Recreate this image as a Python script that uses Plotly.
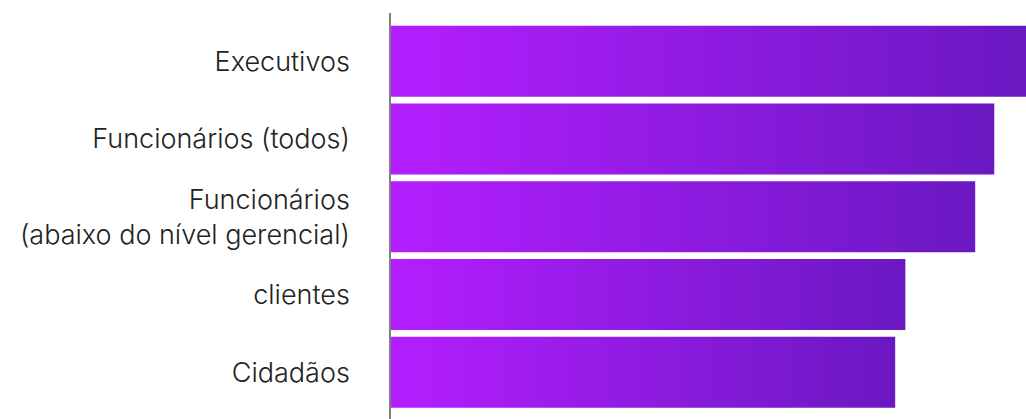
import plotly.graph_objects as go

categories = [
    "Executivos",
    "Funcionários (todos)",
    "Funcionários<br>(abaixo do nível gerencial)",
    "clientes",
    "Cidadãos",
]
values = [100, 95, 92, 81, 79.4]

color_start = "#b41eff"
color_end = "#6a18c2"
half = 0.456

fig = go.Figure()
for i, (cat, v) in enumerate(zip(categories, values)):
    fig.add_trace(go.Scatter(
        x=[0, v, v, 0, 0],
        y=[i - half, i - half, i + half, i + half, i - half],
        mode="lines",
        fill="toself",
        fillgradient=dict(type="horizontal",
                          colorscale=[[0, color_start], [1, color_end]]),
        line=dict(width=0, color="rgba(0,0,0,0)"),
        name=cat.replace("<br>", " "),
        hoverinfo="name",
        showlegend=False,
    ))

fig.update_layout(
    width=1026, height=419,
    margin=dict(l=391, r=0, t=13, b=0),
    paper_bgcolor="white", plot_bgcolor="white",
    font=dict(family="Inter", size=27, color="#222222", weight=300),
    xaxis=dict(range=[0, 100], visible=False, fixedrange=True),
    yaxis=dict(
        range=[4.6, -0.62],
        tickmode="array",
        tickvals=list(range(len(categories))),
        ticktext=categories,
        showgrid=False, zeroline=False,
        showline=True, linecolor="#7f7f7f", linewidth=1.5,
        layer="below traces",
        ticks="",
        ticklabelstandoff=34,
        tickfont=dict(family="Inter", size=27, color="#222222", weight=300),
    ),
)

fig.write_html("out.html")
